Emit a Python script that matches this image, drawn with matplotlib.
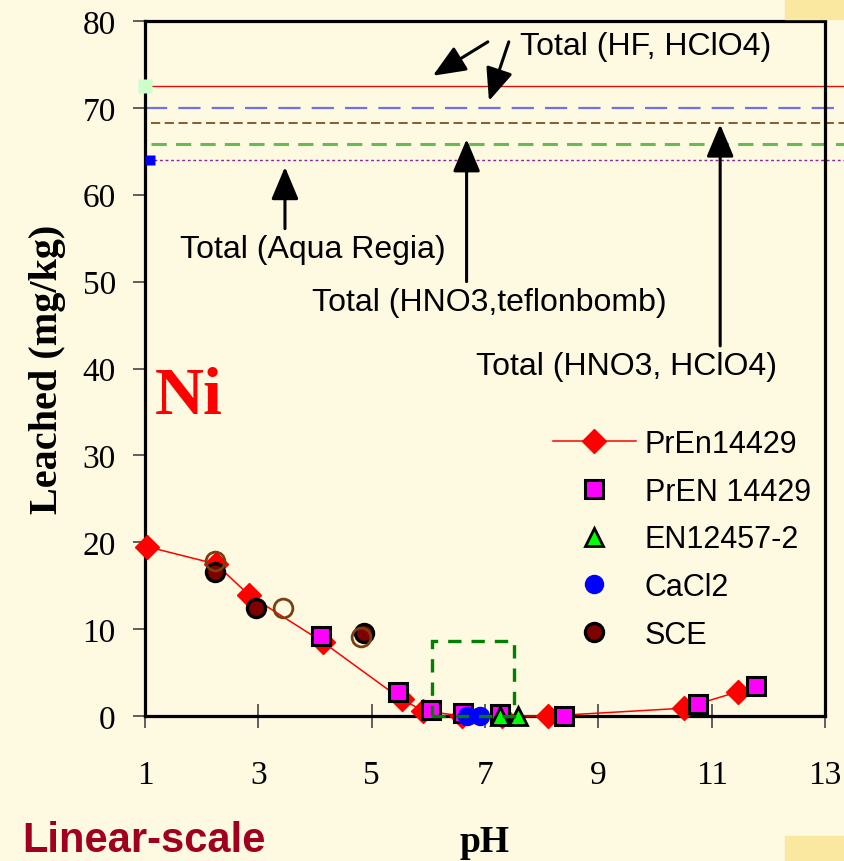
import matplotlib
matplotlib.use("Agg")
import matplotlib.pyplot as plt
from matplotlib.patches import Rectangle

# ---- data ----
ph_pren_line = [1.03, 2.25, 2.84, 4.14, 5.53, 5.91, 6.60, 7.30, 8.12, 10.51, 11.47]
ni_pren_line = [19.5, 17.5, 13.9, 8.5, 1.9, 0.6, 0.0, 0.0, 0.0, 0.9, 2.8]

ph_pren_sq = [4.10, 5.46, 6.05, 6.62, 7.27, 8.40, 10.75, 11.79]
ni_pren_sq = [9.2, 2.8, 0.7, 0.3, 0.2, 0.0, 1.4, 3.5]

ph_en12457 = [7.26, 7.59]
ni_en12457 = [0.0, 0.0]

ph_cacl2 = [6.68, 6.91]
ni_cacl2 = [0.0, 0.0]

ph_sce = [2.24, 2.95, 4.87]
ni_sce = [16.6, 12.4, 9.6]

ph_sce_open = [2.24, 3.44, 4.81]
ni_sce_open = [17.8, 12.4, 9.1]

# total contents (mg/kg)
total_hf_hclo4 = 72.5
total_blue = 70.0
total_hno3_hclo4 = 68.3
total_teflonbomb = 65.8
total_aqua_regia = 64.0

xticks = [1, 3, 5, 7, 9, 11, 13]
yticks = [0, 10, 20, 30, 40, 50, 60, 70, 80]

BG = "#FEF9E1"
PATCH = "#FAE8A0"

fig = plt.figure(figsize=(8.44, 8.62), dpi=100, facecolor=BG)
ax = fig.add_axes([145 / 844, 1 - 717 / 862, 680 / 844, 695 / 862])
ax.set_facecolor(BG)

# decorative corner blocks
fig.patches.append(Rectangle((785 / 844, 1 - 20 / 862), 59 / 844, 20 / 862,
                             transform=fig.transFigure, color=PATCH, zorder=0))
fig.patches.append(Rectangle((785 / 844, 0), 59 / 844, 25 / 862,
                             transform=fig.transFigure, color=PATCH, zorder=0))

ax.set_xlim(1, 13)
ax.set_ylim(0, 80)

# horizontal reference lines for total contents (run past the frame)
x_end = 13.34
ax.plot([1.12, x_end], [total_hf_hclo4] * 2, color="#E01010", lw=1.0, clip_on=False, zorder=2)
ax.plot([1.0, x_end], [total_blue] * 2, color="#7070EE", lw=1.6, ls=(0, (10, 5)), clip_on=False, zorder=2)
ax.plot([1.1, x_end], [total_hno3_hclo4] * 2, color="#6A3000", lw=1.1, ls=(0, (6, 3)), clip_on=False, zorder=2)
ax.plot([1.1, x_end], [total_teflonbomb] * 2, color="#66BB55", lw=2.2, ls=(0, (5, 3)), clip_on=False, zorder=2)
ax.plot([1.15, x_end], [total_aqua_regia] * 2, color="#8B2090", lw=1.0, ls=(0, (2, 2)), clip_on=False, zorder=2)
ax.plot([1.0], [total_hf_hclo4], marker="s", ms=10.5, color="#CCFFCC", mec="none", clip_on=False, zorder=3)
ax.plot([1.08], [total_aqua_regia], marker="s", ms=7, color="#0000FF", mec="none", clip_on=False, zorder=3)

# leaching data
h1, = ax.plot(ph_pren_line, ni_pren_line, color="#FF0000", lw=1.1, marker="D", ms=12,
              mfc="#FF0000", mec="#FF0000", clip_on=False, zorder=4, label="PrEn14429")
h2, = ax.plot(ph_pren_sq, ni_pren_sq, ls="none", marker="s", ms=13.5, mfc="#FF00FF",
              mec="black", mew=2.2, clip_on=False, zorder=5, label="PrEN 14429")
h3, = ax.plot(ph_en12457, ni_en12457, ls="none", marker="^", ms=13, mfc="#00FF00",
              mec="black", mew=2.0, clip_on=False, zorder=6, label="EN12457-2")
h4, = ax.plot(ph_cacl2, ni_cacl2, ls="none", marker="o", ms=14, mfc="#0000FF",
              mec="#0000FF", mew=0, clip_on=False, zorder=7, label="CaCl2")
h5, = ax.plot(ph_sce, ni_sce, ls="none", marker="o", ms=13, mfc="#800000",
              mec="black", mew=2.4, clip_on=False, zorder=8, label="SCE")
ax.plot(ph_sce_open, ni_sce_open, ls="none", marker="o", ms=13.5, mfc="none",
        mec="#7A3F10", mew=2.0, clip_on=False, zorder=9)

# neutral-pH box
ax.add_patch(Rectangle((6.07, 0.0), 1.44, 8.6, fill=False, edgecolor="#008000",
                       lw=2.4, ls=(0, (4, 3)), zorder=10, clip_on=False))

# arrows and labels for the totals
arrow_kw = dict(arrowstyle="-|>,head_length=1.0,head_width=0.42", color="black",
                lw=2.2, shrinkA=0, shrinkB=0, mutation_scale=20)
ann_font = dict(family="Liberation Sans", fontsize=23, color="black")

ax.annotate("", xy=(6.08, 73.7), xytext=(7.05, 77.6), arrowprops=arrow_kw, zorder=11)
ax.annotate("", xy=(7.07, 70.8), xytext=(7.42, 77.6), arrowprops=arrow_kw, zorder=11)
ax.text(7.62, 77.1, "Total (HF, HClO4)", va="center", ha="left", **ann_font)

ax.annotate("", xy=(3.47, 63.2), xytext=(3.47, 56.1), arrowprops=arrow_kw, zorder=11)
ax.text(1.61, 53.7, "Total (Aqua Regia)", va="center", ha="left", **ann_font)

ax.annotate("", xy=(6.675, 66.4), xytext=(6.675, 50.0), arrowprops=arrow_kw, zorder=11)
ax.text(3.94, 47.7, "Total (HNO3,teflonbomb)", va="center", ha="left", **ann_font)

ax.annotate("", xy=(11.15, 68.1), xytext=(11.15, 42.6), arrowprops=arrow_kw, zorder=11)
ax.text(6.85, 40.3, "Total (HNO3, HClO4)", va="center", ha="left", **ann_font)

ax.text(1.18, 36.8, "Ni", color="#FF0000", fontsize=49, fontweight="bold",
        family="Liberation Serif", va="center", ha="left")

# legend
leg = ax.legend(handles=[h1, h2, h3, h4, h5], loc="upper left",
                bbox_to_anchor=(0.6, 0.413), frameon=False,
                prop=dict(family="Liberation Sans", size=22),
                handlelength=2.7, handletextpad=0.3, labelspacing=0.58,
                borderpad=0, borderaxespad=0)

# axes styling
for s in ax.spines.values():
    s.set_linewidth(2.3)
    s.set_color("black")
ax.set_xticks(xticks)
ax.set_yticks(yticks)
ax.tick_params(axis="y", direction="out", length=9, width=1.2, color="#444444",
               pad=12, labelsize=24)
ax.tick_params(axis="x", direction="inout", length=17, width=1.2, color="#444444",
               pad=23, labelsize=24)
for lab in ax.get_xticklabels() + ax.get_yticklabels():
    lab.set_family("Liberation Serif")

ax.set_ylabel("Leached (mg/kg)", family="Liberation Serif", fontweight="bold",
              fontsize=29, labelpad=12)
ax.set_xlabel("pH", family="Liberation Serif", fontweight="bold", fontsize=27, labelpad=24)

fig.text(22 / 844, 1 - 841 / 862, "Linear-scale", color="#A00020", fontsize=30,
         fontweight="bold", family="Liberation Sans", va="center", ha="left")

fig.savefig("out.png", dpi=100, facecolor=BG)
